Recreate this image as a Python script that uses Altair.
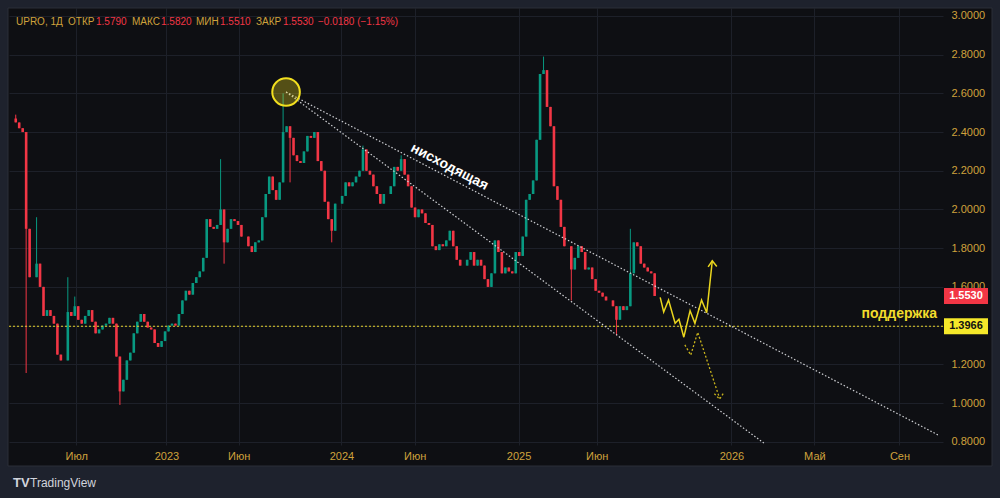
import altair as alt
import pandas as pd

# ---- weekly closes (UPRO, MOEX) ----
closes = [
    2.45, 2.42, 2.40, 1.90, 1.65, 1.65, 1.72, 1.60, 1.45, 1.48,
    1.45, 1.41, 1.25, 1.22, 1.22, 1.47, 1.45, 1.50, 1.43, 1.41,
    1.45, 1.48, 1.42, 1.36, 1.38, 1.40, 1.41, 1.44, 1.41, 1.24,
    1.06, 1.12, 1.22, 1.26, 1.36, 1.42, 1.46, 1.42, 1.39, 1.38,
    1.31, 1.29, 1.32, 1.37, 1.40, 1.41, 1.40, 1.46, 1.53, 1.58,
    1.56, 1.62, 1.65, 1.68, 1.75, 1.95, 1.91, 1.90, 1.92, 2.00,
    1.83, 1.90, 1.95, 1.94, 1.92, 1.86, 1.86, 1.81, 1.78, 1.83,
    1.84, 1.96, 2.08, 2.17, 2.10, 2.05, 2.14, 2.40, 2.43, 2.37,
    2.28, 2.25, 2.24, 2.30, 2.38, 2.37, 2.40, 2.25, 2.20, 2.04,
    1.95, 1.89, 2.03, 2.03, 2.07, 2.14, 2.12, 2.14, 2.17, 2.20,
    2.31, 2.20, 2.18, 2.12, 2.08, 2.03, 2.08, 2.08, 2.12, 2.22,
    2.20, 2.26, 2.18, 2.12, 2.01, 1.96, 2.00, 1.98, 1.93, 1.92,
    1.81, 1.79, 1.82, 1.81, 1.84, 1.89, 1.81, 1.74, 1.71, 1.71,
    1.74, 1.78, 1.71, 1.74, 1.71, 1.64, 1.60, 1.67, 1.84, 1.78,
    1.67, 1.70, 1.68, 1.67, 1.78, 1.76, 1.86, 2.05, 2.08, 2.15,
    2.36, 2.70, 2.72, 2.53, 2.43, 2.12, 2.05, 1.91, 1.81, 1.81,
    1.69, 1.75, 1.81, 1.78, 1.69, 1.70, 1.64, 1.58, 1.57, 1.55,
    1.53, 1.53, 1.50, 1.43, 1.50, 1.48, 1.50, 1.67, 1.83, 1.81,
    1.72, 1.70, 1.68, 1.67, 1.553,
]
first_open = 2.47
spike_idx = [0, 3, 6, 15, 17, 30, 59, 60, 77, 79, 91, 100, 111, 152, 160, 173, 177]
spike_val = [2.49, 1.155, 1.96, 1.65, 1.55, 0.99, 2.26, 1.72, 2.60, 2.14, 1.83, 2.33, 2.28, 2.79, 1.53, 1.35, 1.90]

# ---- axes ----
tick_pos = [17.9, 43.9, 64.7, 94.3, 115.4, 145.3, 167.8, 206.6, 230.5, 255.0]
tick_lab = ["Июл", "2023", "Июн", "2024", "Июн", "2025", "Июн", "2026", "Май", "Сен"]
price_ticks = [0.8, 1.0, 1.2, 1.4, 1.6, 1.8, 2.0, 2.2, 2.4, 2.6, 2.8, 3.0]
hidden_price_label = 1.4   # covered by the support price tag
x_domain = [0, 266.1]
y_domain = [0.783, 3.041]

# ---- annotations ----
peak_w, peak_p = 78.35, 2.607
upper_w = [78.35, 266.1]
upper_p = [2.607, 0.835]
lower_w = [78.35, 215.95]
lower_p = [2.607, 0.793]
support = 1.3966
last_close = 1.5530
solid_w = [186.1, 187.1, 188.5, 190.4, 191.5, 192.9, 194.7, 196.1, 198.0, 199.5, 201.1]
solid_p = [1.546, 1.470, 1.532, 1.412, 1.433, 1.340, 1.477, 1.412, 1.532, 1.467, 1.735]
solid_head_w = [199.9, 201.1, 202.4]
solid_head_p = [1.703, 1.735, 1.705]
dot_w = [193.2, 194.9, 196.9, 203.2]
dot_p = [1.300, 1.248, 1.365, 1.024]
dot_head_w = [201.7, 203.2, 204.3]
dot_head_p = [1.048, 1.020, 1.050]
label_trend_w, label_trend_p = 125.4, 2.22

GOLD = "#cfa23c"
RED = "#f23645"
TEAL = "#089981"
PANEL = "#0e0f13"
OUTER = "#1e222d"
GRID = "#1d2029"
FONT = "Liberation Sans"

rows = []
prev = first_open
for i, c in enumerate(closes):
    rows.append(dict(t=i + 0.5, o=prev, c=c, h=max(prev, c), l=min(prev, c)))
    prev = c
for k, v in zip(spike_idx, spike_val):
    rows[k]["h"] = max(rows[k]["h"], v)
    rows[k]["l"] = min(rows[k]["l"], v)
df = pd.DataFrame(rows)

xs = alt.Scale(domain=x_domain, nice=False, zero=False)
ys = alt.Scale(domain=y_domain, nice=False, zero=False)

label_expr = " : ".join(f"datum.value == {p} ? '{l}'" for p, l in zip(tick_pos, tick_lab)) + " : ''"
XAX = alt.Axis(values=tick_pos, labelExpr=label_expr, title=None, domain=False, ticks=False,
               grid=True, gridColor=GRID, labelColor=GOLD, labelFontSize=11, labelFont=FONT,
               labelPadding=5, labelFlush=False)
YAX = alt.Axis(orient="right", values=price_ticks, title=None, domain=False, ticks=False,
               labelExpr=f"datum.value == {hidden_price_label} ? '' : format(datum.value, '.4f')",
               grid=True, gridColor=GRID, labelColor=GOLD, labelFontSize=11, labelFont=FONT,
               labelPadding=8, labelAlign="left", labelFlush=False)


def X(f):
    return alt.X(f, scale=xs, axis=XAX)


def Y(f):
    return alt.Y(f, scale=ys, axis=YAX)


one = pd.DataFrame({"a": [0]})


def strip(x1, x2, y1, y2, color=OUTER):
    return alt.Chart(one).mark_rect(color=color).encode(
        x=alt.value(x1), x2=alt.value(x2), y=alt.value(y1), y2=alt.value(y2))


frame = (strip(-9, -1, -8, 490) + strip(-9, 991, -8, 0) + strip(983, 991, -8, 490)
         + strip(-9, 991, 458, 490))
border = alt.Chart(one).mark_rect(fill=None, stroke="#2a2e39", strokeWidth=1).encode(
    x=alt.value(-1), x2=alt.value(983), y=alt.value(0), y2=alt.value(458))

candle_color = alt.condition("datum.c >= datum.o", alt.value(TEAL), alt.value(RED))
base = alt.Chart(df)
wicks = base.mark_rule(strokeWidth=1).encode(x=X("t:Q"), y=Y("l:Q"), y2="h:Q", color=candle_color)
bodies = base.mark_bar(size=2.6).encode(x=X("t:Q"), y=Y("o:Q"), y2="c:Q", color=candle_color)

sup_df = pd.DataFrame({"p": [support]})
sup_line = alt.Chart(sup_df).mark_rule(color="#e6d42a", strokeDash=[2, 2], strokeWidth=1.2).encode(
    y=Y("p:Q"))

trend_df = pd.DataFrame({
    "w": upper_w + lower_w, "p": upper_p + lower_p,
    "id": ["u", "u", "l", "l"], "k": [0, 1, 0, 1]})
trends = alt.Chart(trend_df).mark_line(color="#cfd0d4", strokeDash=[1.5, 2], strokeWidth=1.2).encode(
    x=X("w:Q"), y=Y("p:Q"), detail="id:N", order="k:Q")

circle = alt.Chart(pd.DataFrame({"w": [peak_w], "p": [peak_p]})).mark_circle(
    size=760, fill="#e8d820", fillOpacity=0.32, stroke="#f2df1f", strokeOpacity=1,
    strokeWidth=2).encode(x=X("w:Q"), y=Y("p:Q"))

solid_df = pd.DataFrame({
    "w": solid_w + solid_head_w, "p": solid_p + solid_head_p,
    "id": ["s"] * len(solid_w) + ["h"] * len(solid_head_w),
    "k": list(range(len(solid_w))) + list(range(len(solid_head_w)))})
solid = alt.Chart(solid_df).mark_line(color="#e9d51e", strokeWidth=1.5).encode(
    x=X("w:Q"), y=Y("p:Q"), detail="id:N", order="k:Q")

dot_df = pd.DataFrame({
    "w": dot_w + dot_head_w, "p": dot_p + dot_head_p,
    "id": ["s"] * len(dot_w) + ["h"] * len(dot_head_w),
    "k": list(range(len(dot_w))) + list(range(len(dot_head_w)))})
dotted = alt.Chart(dot_df).mark_line(color="#c9b41c", strokeWidth=1.3, strokeDash=[2, 2]).encode(
    x=X("w:Q"), y=Y("p:Q"), detail="id:N", order="k:Q")

trend_label = alt.Chart(pd.DataFrame({"w": [label_trend_w], "p": [label_trend_p], "t": ["нисходящая"]})).mark_text(
    angle=27.5, fontSize=14, fontWeight="bold", color="#ffffff", font=FONT).encode(
    x=X("w:Q"), y=Y("p:Q"), text="t:N")

sup_label = alt.Chart(pd.DataFrame({"p": [support], "t": ["поддержка"]})).mark_text(
    align="right", dy=-12, fontSize=14, fontWeight="bold", color="#f2dc2c", font=FONT).encode(
    x=alt.value(928), y=Y("p:Q"), text="t:N")

tag_df = pd.DataFrame({
    "p": [last_close, support], "t": ["1.5530", "1.3966"],
    "bg": [RED, "#f5e82a"], "fg": ["#ffffff", "#111111"]})
tags_rect = alt.Chart(tag_df).transform_calculate(
    top="datum.p + 0.041", bot="datum.p - 0.041").mark_rect().encode(
    x=alt.value(935), x2=alt.value(979),
    y=Y("top:Q"), y2="bot:Q",
    color=alt.Color("bg:N", scale=None))
tags_text = alt.Chart(tag_df).mark_text(fontSize=11, fontWeight="bold", font=FONT).encode(
    x=alt.value(957), y=Y("p:Q"), text="t:N",
    color=alt.Color("fg:N", scale=None))

header_txt = ["UPRO, 1Д", "ОТКР", "1.5790", "МАКС", "1.5820", "МИН", "1.5510", "ЗАКР", "1.5530",
              "−0.0180 (−1.15%)"]
header_x = [7, 59, 87, 123, 152, 187, 211, 247, 274, 309]
header_col = [GOLD, GOLD, RED, GOLD, RED, GOLD, RED, GOLD, RED, RED]
header = alt.Chart(pd.DataFrame({"t": header_txt, "xp": header_x, "col": header_col})).mark_text(
    align="left", baseline="middle", fontSize=10, font=FONT).encode(
    x=alt.X("xp:Q", scale=None, axis=None), y=alt.value(14), text="t:N",
    color=alt.Color("col:N", scale=None))

logo_mark = alt.Chart(one).mark_text(
    align="left", baseline="middle", fontSize=13, fontWeight="bold", font=FONT, color="#d1d4dc",
    text="TV").encode(x=alt.value(4), y=alt.value(475))
logo_text = alt.Chart(one).mark_text(
    align="left", baseline="middle", fontSize=12, font=FONT, color="#d1d4dc",
    text="TradingView").encode(x=alt.value(21), y=alt.value(475))

chart = alt.layer(
    frame, border, wicks, bodies, sup_line, trends, circle, solid, dotted,
    trend_label, sup_label, tags_rect, tags_text, header, logo_mark, logo_text
).properties(
    width=934, height=437, background=PANEL,
    padding={"left": 9, "top": 8, "right": 57, "bottom": 53},
    autosize=alt.AutoSizeParams(type="none"),
).configure_view(stroke=None, fill=PANEL)

chart.save("out.html", embed_options={"renderer": "svg", "actions": False})
